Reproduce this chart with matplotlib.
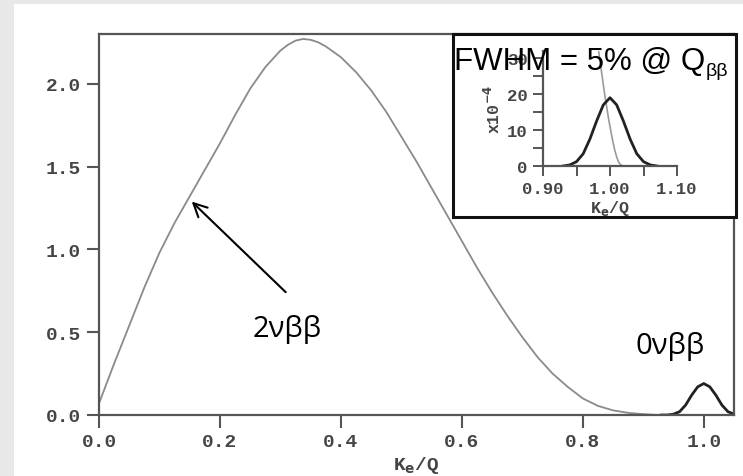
import numpy as np
import matplotlib.pyplot as plt
from matplotlib.patches import Rectangle

# two-neutrino continuum, sum electron energy K_e/Q
k2nu = [0.0, 0.025, 0.05, 0.075, 0.1, 0.125, 0.15, 0.175, 0.2, 0.225, 0.25, 0.275,
        0.3, 0.3125, 0.325, 0.3375, 0.35, 0.3625, 0.375, 0.4, 0.425, 0.45, 0.475,
        0.5, 0.525, 0.55, 0.575, 0.6, 0.625, 0.65, 0.675, 0.7, 0.725, 0.75, 0.775,
        0.8, 0.825, 0.85, 0.875, 0.9, 0.925, 0.95]
y2nu = [0.07, 0.31, 0.54, 0.77, 0.98, 1.16, 1.32, 1.48, 1.64, 1.81, 1.97, 2.10,
        2.20, 2.235, 2.26, 2.27, 2.265, 2.25, 2.225, 2.16, 2.07, 1.96, 1.83,
        1.68, 1.53, 1.37, 1.21, 1.05, 0.89, 0.74, 0.60, 0.47, 0.35, 0.25, 0.17,
        0.10, 0.055, 0.028, 0.013, 0.005, 0.0, 0.0]

# zero-neutrino peak at the endpoint
k0nu = [0.93, 0.94, 0.95, 0.96, 0.97, 0.98, 0.99, 1.0, 1.01, 1.02, 1.03, 1.04,
        1.05, 1.06]
y0nu = [0.0, 0.0, 0.005, 0.02, 0.06, 0.12, 0.17, 0.19, 0.17, 0.12, 0.06, 0.02,
        0.005, 0.0]

# zoom on the endpoint region (units of 1e-4)
kz_peak = [0.93, 0.94, 0.95, 0.96, 0.97, 0.98, 0.99, 1.0, 1.01, 1.02, 1.03, 1.04,
           1.05, 1.06, 1.07]
yz_peak = [0.0, 0.3, 1.2, 3.4, 7.5, 12.5, 17.0, 19.0, 17.0, 12.5, 7.5, 3.4,
           1.2, 0.3, 0.0]
kz_tail = [0.983, 0.986, 0.989, 0.992, 0.995, 0.998, 1.001, 1.004, 1.007, 1.010,
           1.013, 1.016, 1.02]
yz_tail = [32.0, 28.0, 24.0, 20.0, 16.5, 13.0, 10.0, 7.0, 4.5, 2.5, 1.0, 0.3, 0.0]

main_xticks = [0.0, 0.2, 0.4, 0.6, 0.8, 1.0]
main_yticks = [0.0, 0.5, 1.0, 1.5, 2.0]
ins_xticks = [0.90, 1.00, 1.10]
ins_yticks = [0, 10, 20, 30]

W, H = 743, 477
fig = plt.figure(figsize=(W / 100, H / 100), dpi=100)
fig.patch.set_facecolor('#e8e8e8')
fig.add_artist(Rectangle((14 / W, 0), 1 - 14 / W, 1 - 5 / H, transform=fig.transFigure,
                         facecolor='white', edgecolor='none', zorder=0))

mono = dict(family='Liberation Mono', weight='bold', color='#454545')
axcol = '#555555'

ax = fig.add_axes([99 / W, 1 - 416 / H, (734 - 99) / W, (416 - 35) / H])
ax.plot(k2nu, y2nu, color='#8a8a8a', lw=1.3)
ax.plot(k0nu, y0nu, color='#222222', lw=2.0)
ax.set_xlim(0, 1.05)
ax.set_ylim(0, 2.3)
ax.set_xticks(main_xticks)
ax.set_yticks(main_yticks)
ax.set_xticklabels([f'{v:.1f}' for v in main_xticks], fontsize=14, **mono)
ax.set_yticklabels([f'{v:.1f}' for v in main_yticks], fontsize=14, **mono)
ax.tick_params(direction='out', length=9, width=1.5, color=axcol, pad=4)
for s in ax.spines.values():
    s.set_color(axcol)
    s.set_linewidth(1.6)
ax.set_xlabel('K$_\\mathbf{e}$/Q', fontsize=14, labelpad=3, **mono)

ax.annotate('', xy=(0.150, 1.30), xytext=(0.312, 0.73),
            arrowprops=dict(arrowstyle='->', color='black', lw=1.5,
                            mutation_scale=24))
ax.text(0.312, 0.52, '2νββ', fontsize=21, family='Open Sans', ha='center', va='center')
ax.text(0.944, 0.42, '0νββ', fontsize=21, family='Open Sans', ha='center', va='center')

# inset frame
fig.add_artist(Rectangle((453 / W, 1 - 218 / H), (736 - 453) / W, (218 - 35) / H,
                         transform=fig.transFigure, facecolor='white',
                         edgecolor='#111111', lw=2.2, zorder=3))

ins = fig.add_axes([543 / W, 1 - 167 / H, (677 - 543) / W, (167 - 52) / H], zorder=4)
ins.patch.set_alpha(0)
ins.plot(kz_tail, yz_tail, color='#9a9a9a', lw=1.2)
ins.plot(kz_peak, yz_peak, color='#222222', lw=2.0)
ins.set_xlim(0.90, 1.10)
ins.set_ylim(0, 32)
ins.spines['top'].set_visible(False)
ins.spines['right'].set_visible(False)
for s in ('left', 'bottom'):
    ins.spines[s].set_color(axcol)
    ins.spines[s].set_linewidth(1.6)
ins.set_xticks(ins_xticks)
ins.set_xticks([0.95, 1.05], minor=True)
ins.set_yticks(ins_yticks)
ins.set_yticks([5, 15, 25], minor=True)
ins.set_xticklabels([f'{v:.2f}' for v in ins_xticks], fontsize=12.5, **mono)
ins.set_yticklabels([str(v) for v in ins_yticks], fontsize=12.5, **mono)
ins.tick_params(which='both', direction='out', length=7, width=1.4, color=axcol, pad=4)
ins.set_xlabel('K$_\\mathbf{e}$/Q', fontsize=12, labelpad=1, **mono)
ins.set_ylabel('x10$^\\mathbf{-4}$', fontsize=12, labelpad=3, **mono)

# resolution note over the inset, with an upright beta-beta subscript
t1 = fig.text(454 / W, 1 - 70 / H, 'FWHM = 5% @ Q', fontsize=22.5,
              family='Liberation Sans', color='black', zorder=6)
fig.canvas.draw()
bb = t1.get_window_extent(fig.canvas.get_renderer())
fig.text(bb.x1 / W + 0.5 / W, 1 - 76 / H, 'ββ', fontsize=14,
         family='Liberation Sans', color='black', zorder=6)

fig.savefig('out.png', dpi=100)
